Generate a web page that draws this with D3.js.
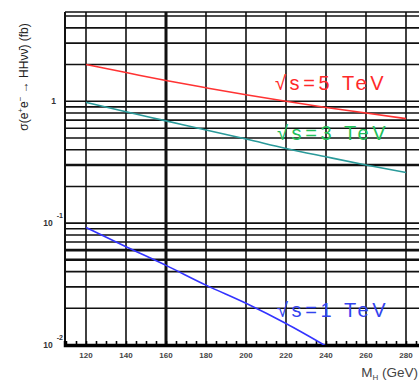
<!DOCTYPE html>
<html>
<head>
<meta charset="utf-8">
<script src="https://cdn.jsdelivr.net/npm/d3@7"></script>
<style>
  body { margin: 0; background: #fff; }
  text { font-family: "Liberation Sans", Arial, sans-serif; }
</style>
</head>
<body>
<svg id="chart"></svg>
<script>
// Higgs mass points (GeV)
const massPoints = [120, 140, 160, 180, 200, 220, 240, 260, 280];
// sigma(e+e- -> HH nu nubar) in fb
const xsec5TeV = [2.0, 1.72, 1.48, 1.29, 1.13, 1.0, 0.89, 0.80, 0.72];
const xsec3TeV = [0.98, 0.82, 0.69, 0.58, 0.49, 0.41, 0.35, 0.30, 0.26];
const xsec1TeV = [0.092, 0.064, 0.045, 0.031, 0.022, 0.015, 0.0098];
const seriesNames = ['√s=5 TeV', '√s=3 TeV', '√s=1 TeV'];
const xTickLabels = [120, 140, 160, 180, 200, 220, 240, 260, 280];
const yMajorTicks = [0.01, 0.1, 1];

const config = {
    width: 419,
    height: 381,
    margin: { top: 12, left: 65 },
    plotWidth: 361,
    plotHeight: 333,
    lineColours: ['#ff3333', '#2a9a9a', '#3333ff'],
    textColours: ['#ff2a2a', '#22c05a', '#3344ee']
};

const svg = d3.select('#chart')
    .attr('width', config.width)
    .attr('height', config.height);

const g = svg.append('g')
    .attr('transform', `translate(${config.margin.left},${config.margin.top})`);

const xScale = d3.scaleLinear()
    .domain([109.5, 290])
    .range([0, config.plotWidth]);

const yScale = d3.scaleLog()
    .domain([0.01, 5.4])
    .range([config.plotHeight, 0]);

// grid: horizontal lines on every log tick, verticals every 20 GeV
const heavyRows = [0.3, 0.05, 0.06];
const hGrid = yScale.ticks().filter(v => v > 0.01);
g.selectAll('.hgrid')
    .data(hGrid)
    .join('line')
    .attr('class', 'hgrid')
    .attr('x1', 0)
    .attr('x2', config.plotWidth)
    .attr('y1', d => yScale(d))
    .attr('y2', d => yScale(d))
    .attr('stroke', '#111')
    .attr('stroke-width', d => heavyRows.some(h => Math.abs(d - h) < 1e-9) ? 2.6 : 1.6);

g.selectAll('.vgrid')
    .data(xTickLabels)
    .join('line')
    .attr('class', 'vgrid')
    .attr('x1', d => xScale(d))
    .attr('x2', d => xScale(d))
    .attr('y1', 0)
    .attr('y2', config.plotHeight)
    .attr('stroke', '#111')
    .attr('stroke-width', d => d === 160 ? 3 : 1.6);

// frame
g.append('line')
    .attr('x1', 0).attr('x2', config.plotWidth)
    .attr('y1', 0).attr('y2', 0)
    .attr('stroke', '#111').attr('stroke-width', 1.6);
g.append('line')
    .attr('x1', 0).attr('x2', 0)
    .attr('y1', 0).attr('y2', config.plotHeight)
    .attr('stroke', '#111').attr('stroke-width', 2);

// x axis with minor ticks every 5 GeV, ticks pointing inwards
const xAxis = d3.axisBottom(xScale)
    .tickValues(d3.range(115, 290, 5))
    .tickSize(-4)
    .tickFormat('');
const xAxisG = g.append('g')
    .attr('transform', `translate(0,${config.plotHeight})`)
    .call(xAxis);
xAxisG.select('.domain')
    .attr('stroke', '#000')
    .attr('stroke-width', 3.5);
xAxisG.selectAll('.tick line')
    .attr('stroke', '#000')
    .attr('stroke-width', 1.6);

g.selectAll('.xlabel')
    .data(xTickLabels)
    .join('text')
    .attr('class', 'xlabel')
    .attr('x', d => xScale(d))
    .attr('y', config.plotHeight + 13)
    .attr('text-anchor', 'middle')
    .attr('font-size', 8)
    .attr('font-weight', 'bold')
    .attr('fill', '#444')
    .text(d => d);

// y labels: 1, 10^-1, 10^-2
yMajorTicks.forEach(v => {
    const exp = Math.round(Math.log10(v));
    const t = g.append('text')
        .attr('y', yScale(v) + 3)
        .attr('text-anchor', 'end')
        .attr('font-size', 8.5)
        .attr('font-weight', 'bold')
        .attr('fill', '#333');
    if (exp === 0) {
        t.attr('x', -9).text('1');
    } else {
        t.attr('x', -2);
        t.append('tspan').text('10');
        t.append('tspan')
            .attr('dx', 4)
            .attr('dy', -8)
            .attr('font-size', 7)
            .text(exp);
    }
});

// axis titles
const yTitle = svg.append('text')
    .attr('transform', `translate(28,77) rotate(-90)`)
    .attr('text-anchor', 'middle')
    .attr('font-size', 12)
    .attr('fill', '#222');
yTitle.append('tspan').text('σ(e');
yTitle.append('tspan').attr('dy', -5).attr('font-size', 8).text('+');
yTitle.append('tspan').attr('dy', 5).text('e');
yTitle.append('tspan').attr('dy', -5).attr('font-size', 8).text('−');
yTitle.append('tspan').attr('dy', 5).text(' → HHνν̄) (fb)');

const xTitle = svg.append('text')
    .attr('x', 418)
    .attr('y', 377)
    .attr('text-anchor', 'end')
    .attr('font-size', 13.5)
    .attr('fill', '#444');
xTitle.append('tspan').text('M');
xTitle.append('tspan').attr('dy', 3).attr('font-size', 8).text('H');
xTitle.append('tspan').attr('dy', -3).text(' (GeV)');

// curves
const allSeries = [xsec5TeV, xsec3TeV, xsec1TeV];
const line = d3.line()
    .x(d => xScale(d[0]))
    .y(d => yScale(d[1]))
    .curve(d3.curveMonotoneX);

g.append('clipPath')
    .attr('id', 'plotClip')
    .append('rect')
    .attr('width', config.plotWidth)
    .attr('height', config.plotHeight);

allSeries.forEach((vals, i) => {
    g.append('path')
        .datum(vals.map((v, j) => [massPoints[j], v]))
        .attr('clip-path', 'url(#plotClip)')
        .attr('fill', 'none')
        .attr('stroke', config.lineColours[i])
        .attr('stroke-width', 1.6)
        .attr('d', line);
});

// series labels placed at a mass/xsec position on the scales
const labelPos = [[214.5, 1.23], [215.5, 0.48], [215.5, 0.017]];
seriesNames.forEach((name, i) => {
    g.append('text')
        .attr('x', xScale(labelPos[i][0]))
        .attr('y', yScale(labelPos[i][1]))
        .attr('font-size', 20)
        .attr('letter-spacing', 3.6)
        .attr('fill', config.textColours[i])
        .text(name);
});
</script>
</body>
</html>
